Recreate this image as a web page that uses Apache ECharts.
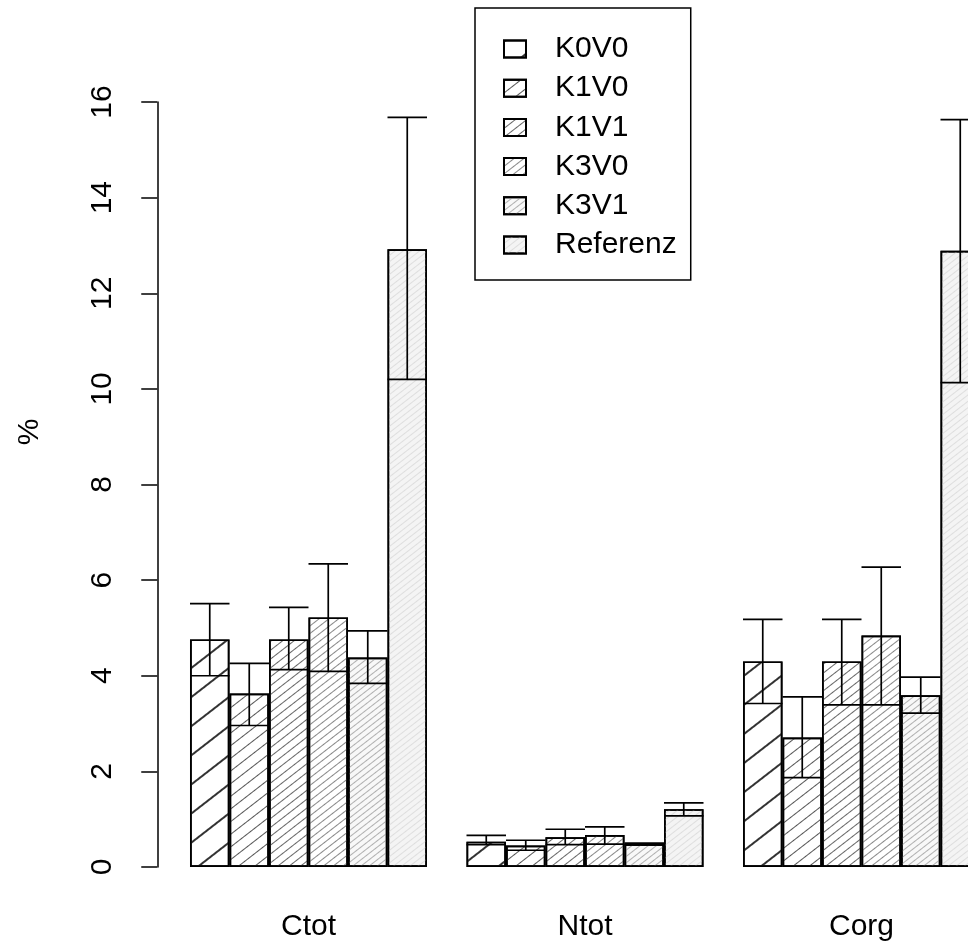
<!DOCTYPE html>
<html><head><meta charset="utf-8">
<script src="https://cdn.jsdelivr.net/npm/echarts@6/dist/echarts.min.js"></script>
<style>html,body{margin:0;padding:0;background:#fff}#c{width:968px;height:941px}</style>
</head><body><div id="c"></div>
<script>
var categories = ['Ctot', 'Ntot', 'Corg'];
var treatments = ['K0V0', 'K1V0', 'K1V1', 'K3V0', 'K3V1', 'Referenz'];
var yTicks = [0, 2, 4, 6, 8, 10, 12, 14, 16];
// bar heights (hatched part)
var meanK0V0 = [4.76, 0.53, 4.30];
var meanK1V0 = [3.63, 0.45, 2.71];
var meanK1V1 = [4.76, 0.62, 4.30];
var meanK3V0 = [5.22, 0.67, 4.84];
var meanK3V1 = [4.38, 0.48, 3.59];
var meanRef  = [12.92, 1.21, 12.89];
// lower line
var lowK0V0 = [4.00, 0.47, 3.42];
var lowK1V0 = [2.96, 0.35, 1.87];
var lowK1V1 = [4.13, 0.47, 3.39];
var lowK3V0 = [4.09, 0.48, 3.39];
var lowK3V1 = [3.84, 0.46, 3.22];
var lowRef  = [10.20, 1.07, 10.13];
// upper cap
var upK0V0 = [5.51, 0.66, 5.18];
var upK1V0 = [4.26, 0.56, 3.56];
var upK1V1 = [5.43, 0.79, 5.18];
var upK3V0 = [6.34, 0.84, 6.27];
var upK3V1 = [4.94, 0.50, 3.97];
var upRef  = [15.68, 1.34, 15.63];

var means = [meanK0V0, meanK1V0, meanK1V1, meanK3V0, meanK3V1, meanRef];
var lows = [lowK0V0, lowK1V0, lowK1V1, lowK3V0, lowK3V1, lowRef];
var ups = [upK0V0, upK1V0, upK1V1, upK3V0, upK3V1, upRef];

var FONT = 'Liberation Sans, Arial, sans-serif';
var hatch = [
  {fill: '#ffffff', line: '#333333', w: 1.1, gap: 21},
  {fill: '#ffffff', line: '#555555', w: 1.0, gap: 9},
  {fill: '#ffffff', line: '#666666', w: 1.0, gap: 6},
  {fill: '#ffffff', line: '#888888', w: 1.0, gap: 4.5},
  {fill: '#f8f8f8', line: '#b0b0b0', w: 1.0, gap: 3.5},
  {fill: '#f4f4f4', line: '#dedede', w: 1.0, gap: 3.5}
];

var series = treatments.map(function (name, i) {
  var h = hatch[i];
  return {
    name: name,
    type: 'bar',
    data: means[i],
    barGap: '0%',
    barCategoryGap: '14.2857%',
    itemStyle: {
      color: h.fill,
      borderColor: '#000',
      borderWidth: 1.7,
      decal: {
        symbol: 'rect',
        symbolSize: 1,
        color: h.line,
        dashArrayX: [1, 0],
        dashArrayY: [h.w, h.gap],
        rotation: -0.66
      }
    },
    emphasis: {disabled: true},
    animation: false
  };
});

var errData = [];
for (var s = 0; s < treatments.length; s++) {
  for (var c = 0; c < categories.length; c++) {
    errData.push([c, s, lows[s][c], ups[s][c]]);
  }
}
series.push({
  type: 'custom',
  data: errData,
  z: 10,
  animation: false,
  silent: true,
  renderItem: function (params, api) {
    var cat = api.value(0), si = api.value(1);
    var lo = api.value(2), hi = api.value(3);
    var band = api.size([1, 0])[0];
    var bw = band / 7;
    var base = api.coord([cat, 0]);
    var xc = base[0] + (si - 2.5) * bw;
    var yl = api.coord([cat, lo])[1];
    var yu = api.coord([cat, hi])[1];
    var st = {stroke: '#000', lineWidth: 1.7};
    return {
      type: 'group',
      children: [
        {type: 'line', shape: {x1: xc, y1: yl, x2: xc, y2: yu}, style: st},
        {type: 'line', shape: {x1: xc - bw / 2, y1: yl, x2: xc + bw / 2, y2: yl}, style: st},
        {type: 'line', shape: {x1: xc - bw / 2, y1: yu, x2: xc + bw / 2, y2: yu}, style: st}
      ]
    };
  }
});

var chart = echarts.init(document.getElementById('c'), null, {renderer: 'canvas'});
chart.setOption({
  animation: false,
  backgroundColor: '#fff',
  grid: {left: 170.25, top: 102, width: 829.5, height: 765, containLabel: false, outerBoundsMode: 'none'},
  legend: {
    data: treatments,
    orient: 'vertical',
    left: 475,
    top: 8,
    padding: [26, 14, 20, 28],
    itemWidth: 22,
    itemHeight: 17,
    itemGap: 9.2,
    icon: 'rect',
    borderColor: '#000',
    borderWidth: 1.5,
    selectedMode: false,
    textStyle: {fontFamily: FONT, fontSize: 30, color: '#000', lineHeight: 30, padding: [0, 0, 0, 24]}
  },
  xAxis: {
    type: 'category',
    data: categories,
    axisLine: {show: false},
    axisTick: {show: false},
    axisLabel: {fontFamily: FONT, fontSize: 30, color: '#000', margin: 45}
  },
  yAxis: {
    type: 'value',
    min: 0,
    max: 16,
    interval: 2,
    offset: 13,
    axisLine: {show: true, lineStyle: {color: '#000', width: 1.5}},
    axisTick: {show: true, length: 16, lineStyle: {color: '#000', width: 1.5}},
    splitLine: {show: false},
    axisLabel: {
      fontFamily: FONT, fontSize: 30, color: '#000', rotate: 90, margin: 40,
      formatter: function (v) { return yTicks.indexOf(v) >= 0 ? String(v) : ''; }
    }
  },
  graphic: [{
    type: 'text',
    x: 30, y: 432,
    rotation: Math.PI / 2,
    style: {text: '%', font: '30px ' + FONT, fill: '#000', textAlign: 'center', textVerticalAlign: 'middle'}
  }],
  series: series
});
</script>
</body></html>
